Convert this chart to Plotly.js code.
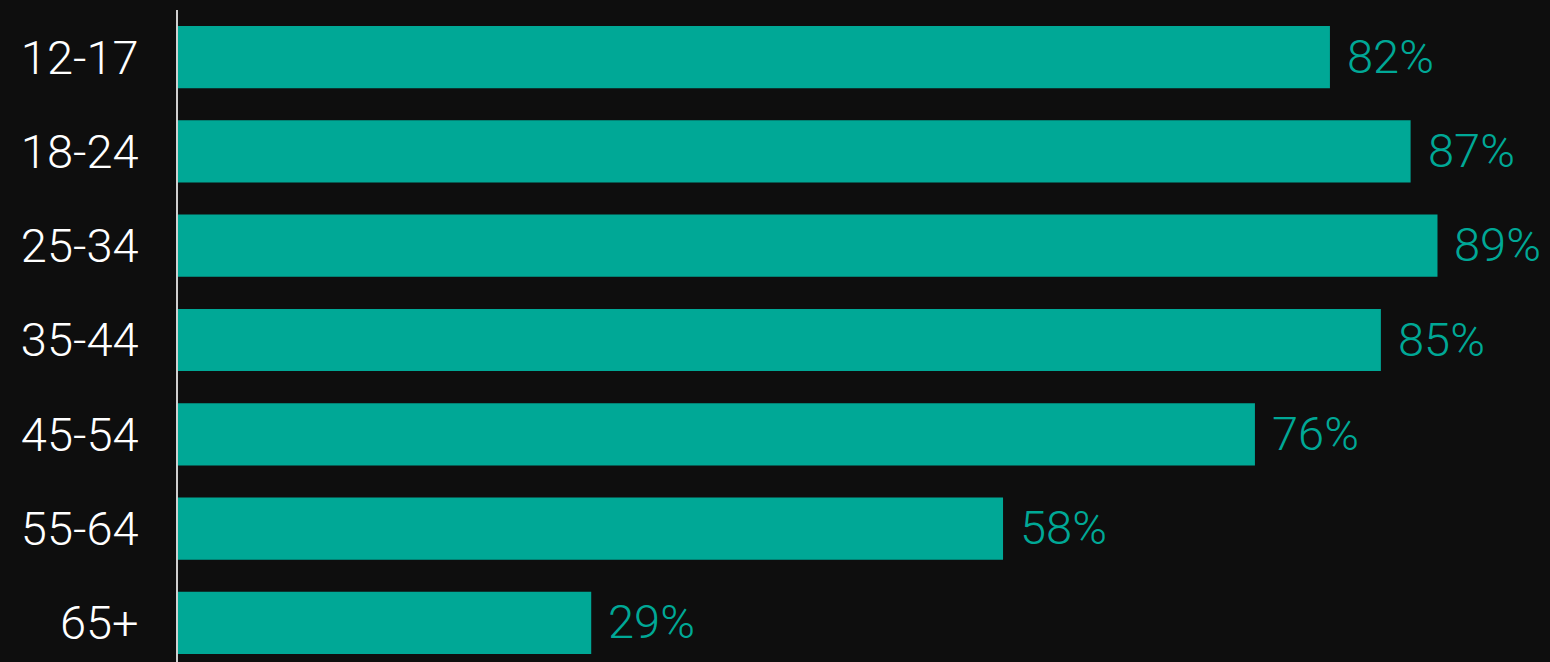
<!DOCTYPE html>
<html>
<head>
<meta charset="utf-8">
<script src="https://cdn.plot.ly/plotly-3.0.1.min.js"></script>
<style>
html,body{margin:0;padding:0;background:#0e0e0e;overflow:hidden;}
#chart{width:1550px;height:670px;}
</style>
</head>
<body>
<div id="chart"></div>
<script>
const categories = ['12-17','18-24','25-34','35-44','45-54','55-64','65+'];
const values = [81.4, 87.1, 89.0, 85.0, 76.1, 58.3, 29.2];
const labels = ['82%','87%','89%','85%','76%','58%','29%'];

const teal = '#00a896';
const fontFam = 'Roboto, "Noto Sans", sans-serif';

const trace = {
  type: 'bar',
  orientation: 'h',
  y: categories,
  x: values,
  marker: {color: teal},
  hoverinfo: 'skip'
};

const annotations = categories.map((c, i) => ({
  x: values[i], y: c, xref: 'x', yref: 'y',
  text: labels[i], showarrow: false,
  xanchor: 'left', yanchor: 'middle', xshift: 15, yshift: 1,
  font: {family: fontFam, size: 47, color: teal, weight: 300}
}));

const layout = {
  width: 1550, height: 670,
  margin: {l: 178, r: 0, t: 10, b: 0},
  paper_bgcolor: '#0e0e0e',
  plot_bgcolor: '#0e0e0e',
  bargap: 0.34,
  showlegend: false,
  xaxis: {range: [0, 96.95], visible: false, fixedrange: true},
  yaxis: {
    categoryorder: 'array', categoryarray: categories,
    autorange: 'reversed',
    showgrid: false, zeroline: false,
    showline: true, linecolor: '#cfcfcf', linewidth: 2,
    ticks: '', ticklabelstandoff: 28,
    tickfont: {family: fontFam, size: 47, color: '#ffffff', weight: 300}
  },
  annotations: annotations
};

Plotly.newPlot('chart', [trace], layout, {displayModeBar: false, staticPlot: true});
</script>
</body>
</html>
